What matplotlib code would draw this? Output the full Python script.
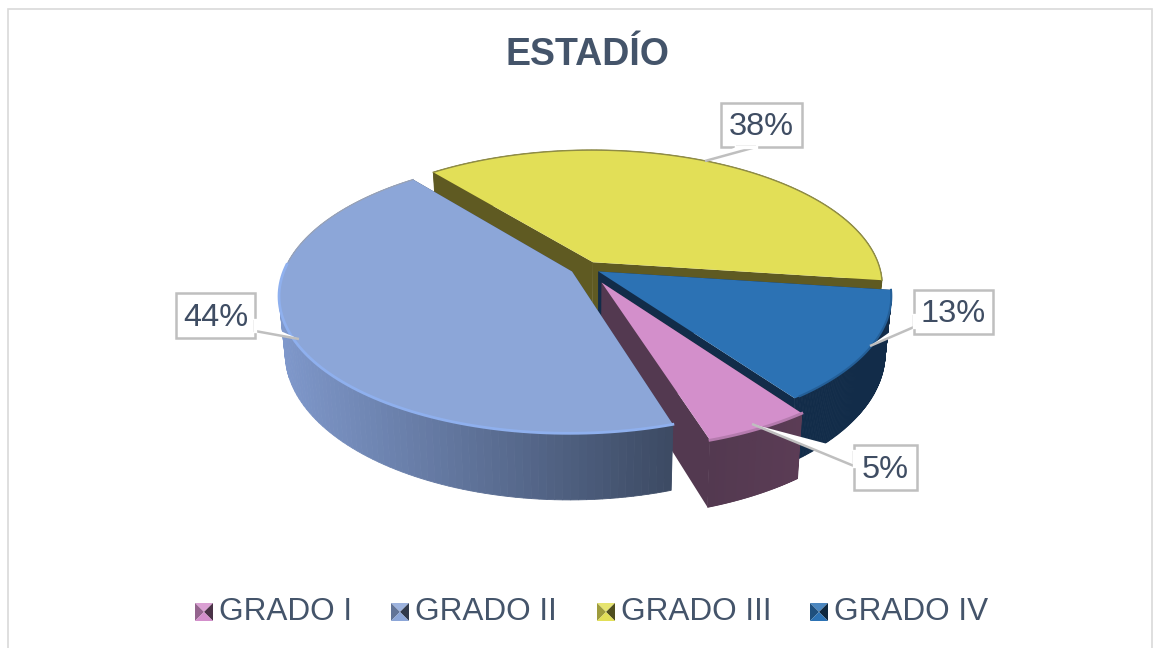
import numpy as np
import matplotlib
matplotlib.use("Agg")
import matplotlib.pyplot as plt
from matplotlib.patches import Polygon, Rectangle
from matplotlib.colors import to_rgb

labels = ["GRADO I", "GRADO II", "GRADO III", "GRADO IV"]
values = [5, 44, 38, 13]
explode = [0.12, 0.055, 0.05, 0.05]
start_angle = 144.5

top_colors = ["#d38fcb", "#8ca6d8", "#e2df57", "#2c72b4"]
wall_left = ["#533950", "#7f98cb", "#5f5a22", "#122c49"]
wall_right = ["#5b3c55", "#3c4a63", "#5f5a22", "#122c49"]

text_color = "#44546a"
label_color = "#3f4d63"
plt.rcParams["font.family"] = ["Liberation Sans", "DejaVu Sans"]

# perspective disk, in pixels
CX, CY = 586, 268
RX, RY = 287, 133
K = 0.17
DEPTH = 55


def project(u, v, lift=0.0):
    s = 1 / (1 - K * v)
    return CX + RX * u * s * (1 - 0.02 * lift), CY + RY * v * s + DEPTH * s * lift


def mix(c1, c2, t):
    a, b = np.array(to_rgb(c1)), np.array(to_rgb(c2))
    return tuple(a + (b - a) * t)


fig = plt.figure(figsize=(11.57, 6.48), dpi=100)
ax = fig.add_axes([0, 0, 1, 1])
ax.set_xlim(0, 1157)
ax.set_ylim(648, 0)
ax.axis("off")

# chart frame
ax.add_patch(Rectangle((8, 9), 1144, 660, fc="white", ec="#d9d9d9", lw=1.2, zorder=0))

ax.text(587, 55, "ESTADÍO", ha="center", va="center", fontsize=27, fontweight="bold", color=text_color)

# slice angles from the values
total = sum(values)
spans = [v / total * 360 for v in values]
starts = start_angle + np.cumsum([0] + spans[:-1])


def draw_slice(i, z):
    a, b = starts[i], starts[i] + spans[i]
    mid = np.radians((a + b) / 2)
    ox, oy = explode[i] * np.sin(mid), -explode[i] * np.cos(mid)
    phi = np.radians(np.linspace(a, b, 120))
    u = ox + np.sin(phi)
    v = oy - np.cos(phi)

    # radial walls
    for k in (0, -1):
        xt, yt = project(np.array([ox, u[k]]), np.array([oy, v[k]]))
        xb, yb = project(np.array([ox, u[k]]), np.array([oy, v[k]]), 1)
        pts = np.column_stack([np.r_[xt, xb[::-1]], np.r_[yt, yb[::-1]]])
        ax.add_patch(Polygon(pts, fc=wall_left[i] if i != 1 else wall_right[i], ec="none", zorder=z))

    # outer wall in strips, colour runs left to right
    xt, yt = project(u, v)
    xb, yb = project(u, v, 1)
    lo, hi = xt.min(), xt.max()
    for j in range(len(u) - 1):
        t = ((xt[j] + xt[j + 1]) / 2 - lo) / (hi - lo)
        col = mix(wall_left[i], wall_right[i], t)
        pts = [(xt[j], yt[j]), (xt[j + 1], yt[j + 1]), (xb[j + 1], yb[j + 1]), (xb[j], yb[j])]
        ax.add_patch(Polygon(pts, fc=col, ec=col, lw=0.6, zorder=z))

    # top face
    ax0, ay0 = project(ox, oy)
    top = np.column_stack([np.r_[ax0, xt], np.r_[ay0, yt]])
    ax.add_patch(Polygon(top, fc=top_colors[i], ec="none", zorder=z + 0.1))
    return xt, yt


xt, yt = draw_slice(2, 1)
ax.plot(xt, yt, color="#8f8c45", lw=1, zorder=1.2)
xt, yt = draw_slice(3, 2)
# soft dark rim, blue slice
ax.plot(xt[:-3], yt[:-3], color="#245f98", lw=1.5, zorder=2.3)
xt, yt = draw_slice(0, 3)
ax.plot(xt, yt, color="#b57bae", lw=2, zorder=3.2)
xt, yt = draw_slice(1, 4)
# rim highlight on the front of the big slice
ax.plot(xt[:84], yt[:84], color="#8fb0ee", lw=2, zorder=4.2)
ax.plot(xt[84:], yt[84:], color="#9aa3b5", lw=0.8, zorder=4.2)

# data labels, box (x0, y0, x1, y1) and leader (base1, base2, tip)
boxes = [(854, 445, 917, 490), (176, 293, 255, 338), (721, 103, 802, 147), (914, 290, 993, 334)]
leaders = [
    [(854, 451), (854, 466), (752, 424)],
    [(255, 320), (255, 331), (299, 339)],
    [(736, 147), (756, 147), (705, 161)],
    [(914, 315), (914, 327), (870, 346)],
]
for i in range(4):
    x0, y0, x1, y1 = boxes[i]
    ax.add_patch(Rectangle((x0, y0), x1 - x0, y1 - y0, fc="white", ec="#bfbfbf", lw=1.8, zorder=6))
    ax.add_patch(Polygon(leaders[i], closed=False, fc="white", ec="#bfbfbf", lw=1.8, zorder=6.1))
    ax.plot([leaders[i][0][0], leaders[i][1][0]], [leaders[i][0][1], leaders[i][1][1]], color="white", lw=2.4, zorder=6.2)
    ax.text((x0 + x1) / 2, (y0 + y1) / 2 + 2, f"{values[i]}%", ha="center", va="center", fontsize=23.4, color=label_color, zorder=7)

# legend, bevelled squares
marker_x = [195, 391, 597, 810]
text_x = [219, 415, 621, 834]
for i in range(4):
    x, y, s = marker_x[i], 603, 18
    c = (x + s / 2, y + s / 2)
    base = top_colors[i]
    ax.add_patch(Polygon([(x, y), (x + s, y), c], fc=mix(base, "white", 0.15), ec="none", zorder=5))
    ax.add_patch(Polygon([(x, y), (x, y + s), c], fc=mix(base, "black", 0.3), ec="none", zorder=5))
    ax.add_patch(Polygon([(x + s, y), (x + s, y + s), c], fc=mix(base, "black", 0.65), ec="none", zorder=5))
    ax.add_patch(Polygon([(x, y + s), (x + s, y + s), c], fc=base, ec="none", zorder=5))
    ax.text(text_x[i], 612, labels[i], ha="left", va="center", fontsize=22.7, color=text_color)

fig.savefig("out.png", dpi=100)
